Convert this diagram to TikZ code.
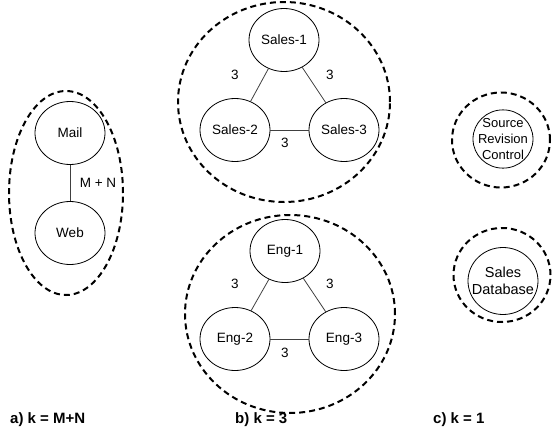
\documentclass[tikz,border=0pt]{standalone}
\usepackage{fontspec}
\setmainfont{Liberation Sans}
\usetikzlibrary{shapes.geometric}
\begin{document}
\begin{tikzpicture}[x=1pt,y=-1pt,
  host/.style={ellipse,draw,line width=0.8pt,inner sep=0pt,minimum width=70pt,minimum height=63pt,font=\fontsize{13.5}{14}\selectfont,align=center},
  grp/.style={ellipse,draw,dashed,line width=2pt,dash pattern=on 6pt off 4pt,inner sep=0pt},
  link/.style={draw,line width=0.8pt,black!75},
  wt/.style={font=\fontsize{13.5}{14}\selectfont,inner sep=1pt},
  captext/.style={font=\bfseries\fontsize{15}{16}\selectfont,anchor=west,inner sep=0pt}]
\useasboundingbox (0,0) rectangle (555,442);
% groups
\node[grp,minimum width=114pt,minimum height=204pt] (ga) at (66,193) {};
\node[grp,minimum width=212pt,minimum height=200pt] (gb) at (284,102) {};
\node[grp,minimum width=210pt,minimum height=198pt] (gc) at (290,314) {};
\node[grp,minimum width=98pt,minimum height=95pt] (gd) at (501,140) {};
\node[grp,minimum width=97pt,minimum height=94pt] (ge) at (502,275) {};
% hosts
\node[host] (mail) at (70,133) {Mail};
\node[host] (web) at (70,233) {Web};
\node[host] (s1) at (284,40) {Sales-1};
\node[host] (s2) at (235,130) {Sales-2};
\node[host] (s3) at (344,130) {Sales-3};
\node[host] (e1) at (285,251) {Eng-1};
\node[host] (e2) at (235,339) {Eng-2};
\node[host] (e3) at (344,339) {Eng-3};
\node[host,minimum width=60pt,minimum height=58pt,text width=0pt,font=\fontsize{13}{16}\selectfont] (src) at (503,139) {\centering\makebox[0pt]{Source}\\\makebox[0pt]{Revision}\\\makebox[0pt]{Control}};
\node[host,minimum width=70pt,minimum height=67pt,text width=0pt,font=\fontsize{14.5}{16.5}\selectfont] (db) at (503,281) {\centering\makebox[0pt]{Sales}\\\makebox[0pt]{Database}};
% links
\draw[link] (mail) -- (web);
\draw[link] (s1) -- (s2);
\draw[link] (s1) -- (s3);
\draw[link] (s2) -- (s3);
\draw[link] (e1) -- (e2);
\draw[link] (e1) -- (e3);
\draw[link] (e2) -- (e3);
% weights
\node[wt] (wmn) at (98,183) {M + N};
\node[wt] (ws1) at (235,75) {3};
\node[wt] (ws2) at (330,75) {3};
\node[wt] (ws3) at (285,143) {3};
\node[wt] (we1) at (235,284) {3};
\node[wt] (we2) at (330,284) {3};
\node[wt] (we3) at (285,353) {3};
% captions
\node[captext] (ca) at (10,420) {a) k = M+N};
\node[captext] (cb) at (235,420) {b) k = 3};
\node[captext] (cc) at (433,420) {c) k = 1};
\end{tikzpicture}
\end{document}
